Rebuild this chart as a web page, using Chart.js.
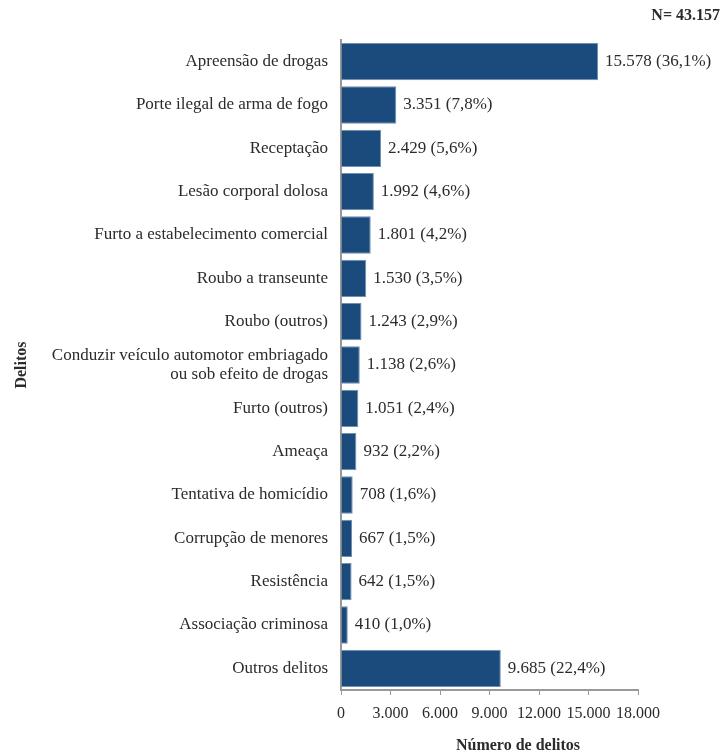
<!DOCTYPE html>
<html lang="pt">
<head>
    <meta charset="UTF-8">
    <title>Delitos</title>
    <style>
        body { margin: 0; padding: 0; background: #fff; }
        canvas { display: block; }
    </style>
    <script src="https://cdn.jsdelivr.net/npm/chart.js"></script>
</head>
<body>
    <canvas id="barChart" width="723" height="756"></canvas>

    <script>
        // Categories (top to bottom)
        const delitos = [
            'Apreensão de drogas',
            'Porte ilegal de arma de fogo',
            'Receptação',
            'Lesão corporal dolosa',
            'Furto a estabelecimento comercial',
            'Roubo a transeunte',
            'Roubo (outros)',
            ['Conduzir veículo automotor embriagado', 'ou sob efeito de drogas'],
            'Furto (outros)',
            'Ameaça',
            'Tentativa de homicídio',
            'Corrupção de menores',
            'Resistência',
            'Associação criminosa',
            'Outros delitos'
        ];
        const numeroDelitos = [15578, 3351, 2429, 1992, 1801, 1530, 1243, 1138, 1051, 932, 708, 667, 642, 410, 9685];
        const percentuais = ['36,1%', '7,8%', '5,6%', '4,6%', '4,2%', '3,5%', '2,9%', '2,6%', '2,4%', '2,2%', '1,6%', '1,5%', '1,5%', '1,0%', '22,4%'];
        const xTicks = [0, 3000, 6000, 9000, 12000, 15000, 18000];
        const total = 'N= 43.157';

        const serif = "'Liberation Serif', 'DejaVu Serif', serif";
        const textColor = '#2b2b2b';

        // thousands separator with a dot
        function fmt(n) {
            return n.toString().replace(/\B(?=(\d{3})+(?!\d))/g, '.');
        }

        // draws value labels next to bars plus the extra texts
        const labelsPlugin = {
            id: 'labels',
            afterDatasetsDraw(chart) {
                const ctx = chart.ctx;
                const meta = chart.getDatasetMeta(0);
                ctx.save();
                ctx.fillStyle = textColor;
                ctx.font = '17px ' + serif;
                ctx.textBaseline = 'middle';
                ctx.textAlign = 'left';
                meta.data.forEach((bar, i) => {
                    ctx.fillText(fmt(numeroDelitos[i]) + ' (' + percentuais[i] + ')', bar.x + 7, bar.y);
                });

                ctx.font = 'bold 16px ' + serif;
                ctx.textAlign = 'right';
                ctx.fillText(total, 720, 16);

                ctx.textAlign = 'center';
                ctx.fillText('Número de delitos', 518, 746);
                ctx.restore();
            }
        };

        const ctx = document.getElementById('barChart').getContext('2d');

        const barChart = new Chart(ctx, {
            type: 'bar',
            data: {
                labels: delitos,
                datasets: [{
                    data: numeroDelitos,
                    backgroundColor: '#1b4a7c',
                    borderColor: '#6f8fb3',
                    borderWidth: 1,
                    barPercentage: 0.86,
                    categoryPercentage: 1
                }]
            },
            options: {
                indexAxis: 'y',
                responsive: false,
                animation: false,
                layout: {
                    padding: { top: 40, right: 85, left: 0, bottom: 0 }
                },
                plugins: {
                    legend: { display: false },
                    tooltip: { enabled: false }
                },
                scales: {
                    x: {
                        min: 0,
                        max: 18000,
                        afterBuildTicks: (axis) => {
                            axis.ticks = xTicks.map(v => ({ value: v }));
                        },
                        afterFit: (axis) => { axis.height = 66; },
                        grid: {
                            display: true,
                            drawOnChartArea: false,
                            drawTicks: true,
                            tickLength: 5,
                            color: '#999'
                        },
                        border: { color: '#999', width: 2 },
                        ticks: {
                            color: textColor,
                            font: { family: serif, size: 16 },
                            padding: 9,
                            maxRotation: 0,
                            callback: (v) => fmt(v)
                        }
                    },
                    y: {
                        afterFit: (axis) => { axis.width = 341; },
                        grid: { display: false, drawTicks: false },
                        border: { color: '#999', width: 2 },
                        ticks: {
                            color: textColor,
                            font: { family: serif, size: 17, lineHeight: 1.1 },
                            padding: 13,
                            autoSkip: false
                        },
                        title: {
                            display: true,
                            text: 'Delitos',
                            color: textColor,
                            font: { family: serif, size: 16, weight: 'bold' },
                            padding: { top: 12, bottom: 0 }
                        }
                    }
                }
            },
            plugins: [labelsPlugin]
        });
    </script>
</body>
</html>
